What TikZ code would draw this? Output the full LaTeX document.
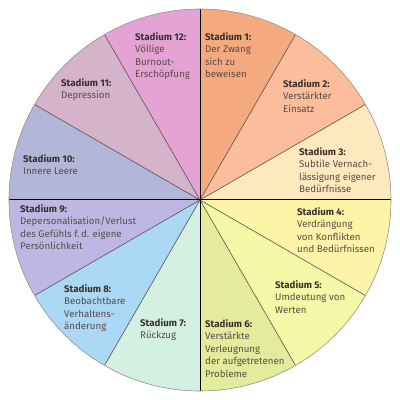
\documentclass[tikz,border=0pt]{standalone}
\usepackage{fontspec}
\setmainfont{Fira Sans}
\usepackage{xcolor}

\definecolor{stage1}{HTML}{F4A97E}
\definecolor{stage2}{HTML}{FBBD9C}
\definecolor{stage3}{HTML}{FDE9BD}
\definecolor{stage4}{HTML}{FCF5A8}
\definecolor{stage5}{HTML}{F5F8A6}
\definecolor{stage6}{HTML}{E2EC9C}
\definecolor{stage7}{HTML}{D3F0E2}
\definecolor{stage8}{HTML}{AAD8F5}
\definecolor{stage9}{HTML}{BDB8E3}
\definecolor{stage10}{HTML}{B2B6D8}
\definecolor{stage11}{HTML}{D4B3CB}
\definecolor{stage12}{HTML}{E5A3D5}
\definecolor{spoke}{HTML}{5E4E4A}
\definecolor{rim}{HTML}{9A8E8A}
\definecolor{txt}{HTML}{5A4B46}
\definecolor{txtbold}{HTML}{3A2F2B}

\tikzstyle{spokeline} = [draw=spoke, line width=0.6pt]
\tikzstyle{axisline} = [draw=black, line width=1pt]
\tikzstyle{stage} = [anchor=north west, inner sep=0pt, align=left, text=txt,
    font=\fontsize{9.7}{12.5}\selectfont]
\newcommand{\stadium}[1]{{\color{txtbold}\bfseries Stadium #1:}}

\begin{document}
\begin{tikzpicture}[x=1pt, y=1pt]
    \useasboundingbox (0,0) rectangle (400,400);
    % Sectors
    \foreach \i in {1,...,12}
        \fill[stage\i] (200,200) -- ++({90-30*(\i-1)}:191)
            arc[start angle={90-30*(\i-1)}, end angle={90-30*\i}, radius=191] -- cycle;
    \foreach \a in {30,60,120,150,210,240,300,330}
        \path [spokeline] (200,200) -- ++(\a:191);
    \path [axisline] (200,9) -- (200,391);
    \path [axisline] (9,200) -- (391,200);
    \draw [rim, line width=0.6pt] (200,200) circle (191);

    % Place nodes
    \node [stage] (s1) at (205,368) {\stadium{1}\\Der Zwang\\sich zu\\beweisen};
    \node [stage] (s2) at (283,321) {\stadium{2}\\Verstärkter\\Einsatz};
    \node [stage] (s3) at (299,253) {\stadium{3}\\Subtile Vernach-\\lässigung eigener\\Bedürfnisse};
    \node [stage] (s4) at (297,193) {\stadium{4}\\Verdrängung\\von Konflikten\\und Bedürfnissen};
    \node [stage] (s5) at (275,120) {\stadium{5}\\Umdeutung von\\Werten};
    \node [stage] (s6) at (205,81) {\stadium{6}\\Verstärkte\\Verleugnung\\der aufgetretenen\\Probleme};
    \node [stage] (s7) at (140,82) {\stadium{7}\\Rückzug};
    \node [stage] (s8) at (64,116) {\stadium{8}\\Beobachtbare\\Verhaltens-\\änderung};
    \node [stage] (s9) at (20,196) {\stadium{9}\\Depersonalisation/Verlust\\des Gefühls f.\,d. eigene\\Persönlichkeit};
    \node [stage] (s10) at (23,246) {\stadium{10}\\Innere Leere};
    \node [stage] (s11) at (61,322) {\stadium{11}\\Depression};
    \node [stage] (s12) at (135,368) {\stadium{12}\\Völlige\\Burnout-\\Erschöpfung};
\end{tikzpicture}
\end{document}
